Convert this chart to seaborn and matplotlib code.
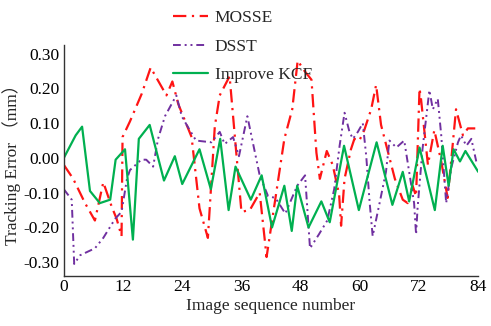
import numpy as np
import pandas as pd
import matplotlib
matplotlib.use("Agg")
import matplotlib.pyplot as plt
import seaborn as sns

# values
mosse_x = [0.0, 1.9, 4.3, 6.3, 8.0, 9.7, 10.7, 11.7, 11.9, 13.4, 15.8, 17.6, 20.8, 22.0,
           23.2, 25.9, 27.5, 29.2, 30.6, 31.6, 33.6, 36.0, 37.7, 39.7, 41.1, 44.7, 46.3,
           47.4, 48.8, 50.2, 51.2, 51.9, 53.3, 54.5, 55.8, 56.2, 56.9, 58.2, 58.9, 59.9,
           60.9, 62.3, 63.3, 64.3, 67.1, 68.7, 69.7, 70.7, 71.4, 72.1, 72.4, 73.4, 73.8,
           75.1, 76.5, 77.8, 79.5, 80.9, 81.9, 83.4]
mosse_y = [-0.02, -0.06, -0.13, -0.18, -0.07, -0.14, -0.175, -0.225, 0.06, 0.105, 0.185,
           0.26, 0.18, 0.22, 0.155, 0.06, -0.145, -0.23, 0.09, 0.18, 0.235, -0.155, -0.15,
           -0.10, -0.285, 0.055, 0.14, 0.28, 0.25, 0.225, 0.015, -0.06, 0.02, -0.02, -0.105,
           -0.195, -0.06, 0.025, 0.055, 0.05, 0.08, 0.14, 0.21, 0.095, -0.06, -0.12, -0.13,
           -0.08, -0.11, 0.20, 0.17, 0.035, -0.02, 0.08, -0.01, -0.115, 0.14, 0.065, 0.085,
           0.085]

dsst_x = [0.0, 1.6, 2.1, 3.3, 6.3, 8.0, 10.4, 11.7, 12.8, 13.4, 15.7, 16.7, 18.1, 19.1,
          20.5, 22.8, 23.9, 24.9, 26.8, 29.9, 31.6, 32.6, 34.3, 35.5, 37.2, 39.7, 41.4,
          42.9, 44.9, 47.3, 48.9, 49.9, 51.7, 53.4, 54.8, 55.9, 56.9, 57.9, 58.6, 59.6,
          60.6, 61.3, 62.0, 62.6, 64.0, 65.3, 66.0, 67.4, 69.0, 71.0, 71.4, 71.7, 72.7,
          74.1, 74.8, 75.8, 76.5, 77.5, 78.5, 79.9, 80.5, 81.6, 82.6, 83.6]
dsst_y = [-0.09, -0.12, -0.305, -0.28, -0.26, -0.23, -0.175, -0.155, -0.06, -0.035, -0.005,
          -0.005, -0.025, 0.055, 0.12, 0.18, 0.12, 0.095, 0.05, 0.045, 0.075, 0.04, 0.06,
          0.005, 0.12, -0.05, -0.11, -0.115, -0.16, -0.08, -0.05, -0.26, -0.22, -0.18, -0.09,
          0.035, 0.13, 0.075, 0.055, 0.075, 0.10, 0.005, -0.13, -0.225, -0.13, -0.04, 0.05,
          0.03, 0.05, -0.13, -0.22, -0.145, 0.025, 0.195, 0.14, 0.17, 0.065, -0.13, -0.03,
          0.045, 0.065, 0.035, 0.055, -0.01]

kcf_x = [0.0, 2.4, 3.7, 5.3, 7.3, 9.4, 10.5, 12.4, 14.0, 15.2, 17.4, 20.3, 22.5, 24.0,
         27.5, 29.8, 31.7, 33.4, 34.8, 37.9, 40.1, 42.2, 44.7, 46.2, 47.3, 49.6, 52.2,
         53.9, 56.8, 59.8, 63.4, 66.6, 68.7, 70.0, 72.1, 75.2, 76.8, 78.0, 79.0, 80.3,
         81.4, 84.0]
kcf_y = [0.00, 0.065, 0.09, -0.095, -0.13, -0.12, -0.005, 0.025, -0.235, 0.055, 0.095,
         -0.065, 0.005, -0.075, 0.025, -0.09, 0.055, -0.15, -0.025, -0.12, -0.05, -0.20,
         -0.08, -0.21, -0.08, -0.20, -0.125, -0.185, 0.035, -0.15, 0.045, -0.135, -0.04,
         -0.125, 0.03, -0.15, 0.035, -0.08, 0.025, -0.01, 0.02, -0.04]

x_ticks = [0, 12, 24, 36, 48, 60, 72, 84]
y_ticks = [-0.30, -0.20, -0.10, 0.00, 0.10, 0.20, 0.30]

sns.set_style("white")
plt.rcParams["font.family"] = ["Liberation Serif", "Noto Sans CJK SC"]

fig = plt.figure(figsize=(4.91, 3.26), dpi=100)
ax = fig.add_axes([0.130, 0.153, 0.844, 0.709])

sns.lineplot(x=mosse_x, y=mosse_y, ax=ax, color="#ff1414", lw=1.6,
             linestyle=(0, (6, 2.5, 1, 2.5)), sort=False, estimator=None, label="MOSSE")
sns.lineplot(x=dsst_x, y=dsst_y, ax=ax, color="#7030a0", lw=1.4,
             linestyle=(0, (4, 2, 1, 2, 1, 2)), sort=False, estimator=None, label="DSST")
sns.lineplot(x=kcf_x, y=kcf_y, ax=ax, color="#00b050", lw=1.6,
             sort=False, estimator=None, label="Improve KCF")

ax.set_xlim(0, 84)
ax.set_ylim(-0.34, 0.325)
ax.set_xticks(x_ticks)
ax.set_yticks(y_ticks)
ax.set_yticklabels([f"{v:.2f}" for v in y_ticks])
ax.tick_params(direction="in", length=4, width=0.8, labelsize=12.5, colors="black")
ax.tick_params(axis="x", pad=2)
ax.tick_params(axis="y", pad=3)

for side in ["top", "right"]:
    ax.spines[side].set_visible(False)
for side in ["left", "bottom"]:
    ax.spines[side].set_color("#333333")
    ax.spines[side].set_linewidth(1.0)

ax.set_xlabel("Image sequence number", fontsize=12.5, labelpad=2)
ax.set_ylabel("Tracking Error （mm）", fontsize=12.5, labelpad=2)

ax.legend(loc="upper left", bbox_to_anchor=(0.335, 0.995), bbox_transform=fig.transFigure,
          frameon=False, fontsize=12.5, handlelength=2.0, handletextpad=0.4,
          labelspacing=0.7, borderpad=0)

fig.savefig("out.png", dpi=100)
